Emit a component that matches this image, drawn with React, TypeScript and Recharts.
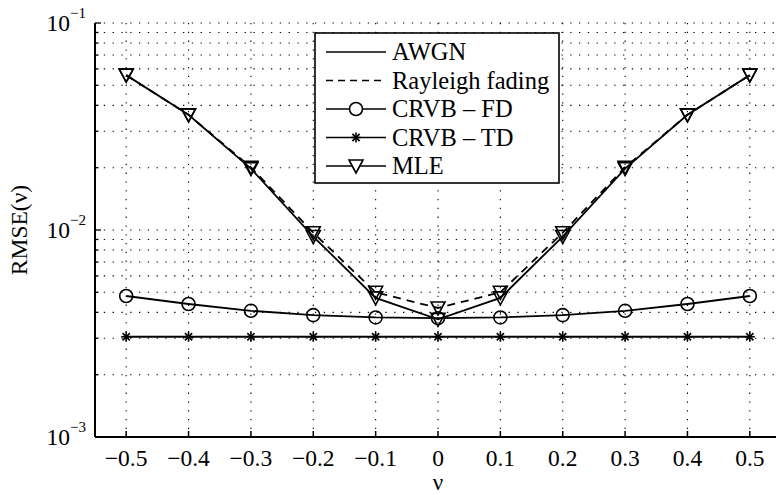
import {
  CartesianGrid,
  Legend,
  Line,
  LineChart,
  XAxis,
  YAxis
} from 'recharts'

const nuValues = [-0.5, -0.4, -0.3, -0.2, -0.1, 0, 0.1, 0.2, 0.3, 0.4, 0.5]
const xTickLabels = ['−0.5', '−0.4', '−0.3', '−0.2', '−0.1', '0', '0.1', '0.2', '0.3', '0.4', '0.5']

// MLE curves (triangles sit on both channel curves)
const awgnMle = [0.056, 0.036, 0.0198, 0.0093, 0.0047, 0.0037, 0.0047, 0.0093, 0.0198, 0.036, 0.056]
const rayleighMle = [0.056, 0.036, 0.0201, 0.0097, 0.005, 0.0042, 0.005, 0.0097, 0.0201, 0.036, 0.056]
const crvbFd = [0.0048, 0.00439, 0.00407, 0.00388, 0.00378, 0.00375, 0.00378, 0.00388, 0.00407, 0.00439, 0.0048]
const crvbTd = [0.00305, 0.00305, 0.00305, 0.00305, 0.00305, 0.00305, 0.00305, 0.00305, 0.00305, 0.00305, 0.00305]

const yTicks = [
  0.001, 0.002, 0.003, 0.004, 0.005, 0.006, 0.007, 0.008, 0.009,
  0.01, 0.02, 0.03, 0.04, 0.05, 0.06, 0.07, 0.08, 0.09, 0.1
]
const yDecades = [0.001, 0.01, 0.1]
const yExponents = ['−3', '−2', '−1']

const legendItems = [
  { label: 'AWGN', dash: '', marker: 'none' },
  { label: 'Rayleigh fading', dash: '7 5', marker: 'none' },
  { label: 'CRVB – FD', dash: '', marker: 'circle' },
  { label: 'CRVB – TD', dash: '', marker: 'star' },
  { label: 'MLE', dash: '', marker: 'triangle' }
]

const data = nuValues.map((nu, i) => ({
  nu,
  awgn: awgnMle[i],
  rayleigh: rayleighMle[i],
  fd: crvbFd[i],
  td: crvbTd[i]
}))

const FONT = '"Liberation Serif", "Times New Roman", serif'

function triangle(cx: number, cy: number, fill: string, key?: string | number) {
  const pts = `${cx - 7},${cy - 6} ${cx + 7},${cy - 6} ${cx},${cy + 7}`
  return <polygon key={key} points={pts} fill={fill} stroke="#000" strokeWidth={1.6} />
}

function circle(cx: number, cy: number, fill: string, key?: string | number) {
  return <circle key={key} cx={cx} cy={cy} r={6.5} fill={fill} stroke="#000" strokeWidth={1.6} />
}

function star(cx: number, cy: number, key?: string | number) {
  const r = 5
  const d = 3.6
  return (
    <g key={key} stroke="#000" strokeWidth={1.6}>
      <line x1={cx - r} y1={cy} x2={cx + r} y2={cy} />
      <line x1={cx} y1={cy - r} x2={cx} y2={cy + r} />
      <line x1={cx - d} y1={cy - d} x2={cx + d} y2={cy + d} />
      <line x1={cx - d} y1={cy + d} x2={cx + d} y2={cy - d} />
    </g>
  )
}

const TriangleDot = (props: any) => {
  if (props.cx == null || props.cy == null) return <g key={props.index} />
  return triangle(props.cx, props.cy, 'none', props.index)
}
const CircleDot = (props: any) => {
  if (props.cx == null || props.cy == null) return <g key={props.index} />
  return circle(props.cx, props.cy, 'none', props.index)
}
const StarDot = (props: any) => {
  if (props.cx == null || props.cy == null) return <g key={props.index} />
  return star(props.cx, props.cy, props.index)
}

const BottomTick = (props: any) => {
  const { x, y, index } = props
  const axisY = y - 6
  return (
    <g>
      <line x1={x} y1={axisY} x2={x} y2={axisY - 6} stroke="#000" strokeWidth={1.5} />
      <text x={x} y={axisY + 29} textAnchor="middle" fontSize={23.5} fontFamily={FONT} fill="#000">
        {xTickLabels[index]}
      </text>
    </g>
  )
}

const TopTick = (props: any) => {
  const { x, y } = props
  return <line x1={x} y1={y} x2={x} y2={y + 6} stroke="#000" strokeWidth={1.5} />
}

const LeftTick = (props: any) => {
  const { x, y, payload } = props
  const axisX = x + 8
  const di = yDecades.indexOf(payload.value)
  const major = di >= 0
  return (
    <g>
      <line x1={axisX} y1={y} x2={axisX + (major ? 6 : 3.5)} y2={y} stroke="#000" strokeWidth={1.3} />
      {major && (
        <text x={x - 1} y={y + 8} textAnchor="end" fontSize={23.5} fontFamily={FONT} fill="#000">
          10
          <tspan dy={-13} fontSize={15}>{yExponents[di]}</tspan>
        </text>
      )}
    </g>
  )
}

const LegendBox = () => (
  <svg width={246} height={152} style={{ display: 'block' }}>
    <rect x={1} y={1} width={244} height={150} fill="#fff" stroke="#000" strokeWidth={1.6} />
    {legendItems.map((item, i) => {
      const cy = 20 + i * 28.5
      return (
        <g key={item.label}>
          <line
            x1={12}
            y1={cy}
            x2={72}
            y2={cy}
            stroke="#000"
            strokeWidth={1.7}
            strokeDasharray={item.dash || undefined}
          />
          {item.marker === 'circle' && circle(42, cy, '#fff')}
          {item.marker === 'star' && star(42, cy)}
          {item.marker === 'triangle' && triangle(42, cy, '#fff')}
          <text x={78} y={cy + 8} fontSize={24.5} fontFamily={FONT} fill="#000">
            {item.label}
          </text>
        </g>
      )
    })}
  </svg>
)

export default function App() {
  return (
    <div
      style={{
        position: 'fixed',
        left: 0,
        top: 0,
        width: 776,
        height: 495,
        overflow: 'hidden',
        background: '#fff'
      }}
    >
      <LineChart
        width={790}
        height={495}
        data={data}
        margin={{ top: 23, right: 9, left: 35, bottom: 13 }}
      >
        <CartesianGrid stroke="#000" strokeWidth={1.1} strokeDasharray="1.3 7.5" />
        <XAxis
          dataKey="nu"
          type="number"
          domain={[-0.55, 0.55]}
          ticks={nuValues}
          interval={0}
          height={45}
          tickSize={0}
          tickMargin={6}
          tick={BottomTick}
          axisLine={{ stroke: '#000', strokeWidth: 2 }}
          label={{ value: 'ν', position: 'insideBottom', offset: 0, dy: 8, fontSize: 23, fontFamily: FONT, fill: '#000' }}
        />
        <XAxis
          xAxisId="top"
          orientation="top"
          type="number"
          domain={[-0.55, 0.55]}
          ticks={nuValues}
          interval={0}
          height={0}
          tickSize={0}
          tickMargin={0}
          tick={TopTick}
          axisLine={{ stroke: '#000', strokeWidth: 2 }}
        />
        <YAxis
          scale="log"
          type="number"
          domain={[0.001, 0.1]}
          allowDataOverflow
          ticks={yTicks}
          interval={0}
          width={60}
          tickSize={0}
          tickMargin={8}
          tick={LeftTick}
          axisLine={{ stroke: '#000', strokeWidth: 2 }}
          label={{
            value: 'RMSE(ν)',
            angle: -90,
            position: 'insideLeft',
            offset: 0,
            dx: -16,
            style: { textAnchor: 'middle', fontSize: 23.5, fontFamily: FONT, fill: '#000' }
          }}
        />
        <Legend
          layout="horizontal"
          verticalAlign="middle"
          align="center"
          content={LegendBox}
          wrapperStyle={{ left: 314, top: 32, width: 246, height: 152 }}
        />
        <Line
          type="linear"
          dataKey="td"
          stroke="#000"
          strokeWidth={1.8}
          dot={StarDot}
          isAnimationActive={false}
        />
        <Line
          type="linear"
          dataKey="fd"
          stroke="#000"
          strokeWidth={1.8}
          dot={CircleDot}
          isAnimationActive={false}
        />
        <Line
          type="linear"
          dataKey="rayleigh"
          stroke="#000"
          strokeWidth={1.8}
          strokeDasharray="8 6"
          dot={TriangleDot}
          isAnimationActive={false}
        />
        <Line
          type="linear"
          dataKey="awgn"
          stroke="#000"
          strokeWidth={1.8}
          dot={TriangleDot}
          isAnimationActive={false}
        />
      </LineChart>
    </div>
  )
}
